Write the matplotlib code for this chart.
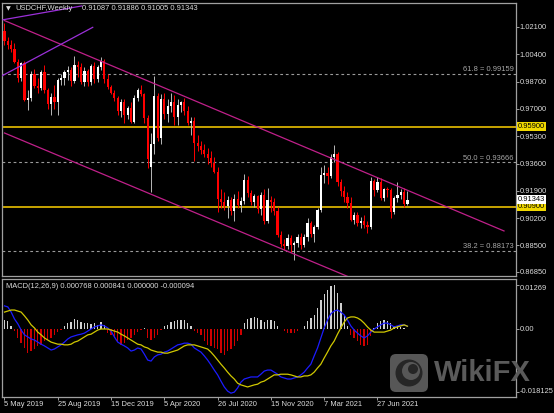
import matplotlib
matplotlib.use("Agg")
import numpy as np
import matplotlib.pyplot as plt
import matplotlib.transforms as mtransforms
from matplotlib.patches import FancyBboxPatch, Circle

# weekly USDCHF candles, week of 5 May 2019 .. week of 30 Aug 2021
opens = [1.0185, 1.0125, 1.0095, 1.0070, 0.9995, 0.9890, 0.9985, 0.9755, 0.9765, 0.9920,
         0.9845, 0.9830, 0.9930, 0.9815, 0.9730, 0.9775, 0.9745, 0.9880, 0.9895, 0.9930,
         0.9945, 0.9875, 0.9975, 0.9960, 0.9870, 0.9935, 0.9865, 0.9965, 0.9885, 0.9960,
         1.0000, 0.9885, 0.9835, 0.9800, 0.9765, 0.9690, 0.9740, 0.9660, 0.9705, 0.9620,
         0.9770, 0.9815, 0.9790, 0.9645, 0.9340, 0.9480, 0.9780, 0.9520, 0.9760, 0.9670,
         0.9720, 0.9745, 0.9650, 0.9725, 0.9740, 0.9690, 0.9615, 0.9625, 0.9490, 0.9470,
         0.9445, 0.9420, 0.9395, 0.9365, 0.9310, 0.9140, 0.9120, 0.9095, 0.9130, 0.9065,
         0.9140, 0.9100, 0.9125, 0.9255, 0.9175, 0.9120, 0.9155, 0.9075, 0.9165, 0.9000,
         0.9135, 0.9120, 0.9065, 0.8915, 0.8860, 0.8845, 0.8895, 0.8850, 0.8865, 0.8905,
         0.8855, 0.8905, 0.8990, 0.8920, 0.8965, 0.9070, 0.9290, 0.9300, 0.9285, 0.9400,
         0.9420, 0.9245, 0.9190, 0.9150, 0.9115, 0.9010, 0.9040, 0.8990, 0.9005, 0.8980,
         0.8965, 0.9250, 0.9195, 0.9245, 0.9145, 0.9200, 0.9195, 0.9055, 0.9145, 0.9165,
         0.9180, 0.91087]
highs = [1.0235, 1.0150, 1.0130, 1.0110, 1.0010, 0.9995, 1.0000, 0.9820, 0.9935, 0.9950,
         0.9890, 0.9940, 0.9975, 0.9830, 0.9800, 0.9850, 0.9890, 0.9920, 0.9945, 0.9970,
         0.9960, 1.0027, 1.0000, 0.9985, 0.9960, 0.9950, 0.9980, 0.9990, 0.9975, 1.0023,
         1.0010, 0.9920, 0.9850, 0.9820, 0.9780, 0.9760, 0.9760, 0.9720, 0.9745, 0.9785,
         0.9830, 0.9850, 0.9800, 0.9660, 0.9550, 0.9902, 0.9800, 0.9790, 0.9800, 0.9760,
         0.9800, 0.9785, 0.9760, 0.9750, 0.9765, 0.9720, 0.9650, 0.9650, 0.9535, 0.9500,
         0.9480, 0.9455, 0.9440, 0.9400, 0.9340, 0.9200, 0.9180, 0.9160, 0.9150, 0.9170,
         0.9190, 0.9150, 0.9295, 0.9280, 0.9195, 0.9170, 0.9165, 0.9185, 0.9200, 0.9210,
         0.9160, 0.9145, 0.9090, 0.8940, 0.8890, 0.8920, 0.8915, 0.8880, 0.8920, 0.8930,
         0.8920, 0.9020, 0.9000, 0.8980, 0.9085, 0.9340, 0.9350, 0.9340, 0.9420, 0.9473,
         0.9430, 0.9265, 0.9220, 0.9180, 0.9150, 0.9060, 0.9060, 0.9030, 0.9040, 0.9000,
         0.9275, 0.9265, 0.9275, 0.9270, 0.9210, 0.9215, 0.9210, 0.9160, 0.9245, 0.9200,
         0.9205, 0.91886]
lows = [1.0100, 1.0075, 1.0055, 0.9985, 0.9870, 0.9875, 0.9750, 0.9695, 0.9750, 0.9830,
        0.9800, 0.9815, 0.9800, 0.9700, 0.9665, 0.9700, 0.9660, 0.9850, 0.9850, 0.9880,
        0.9840, 0.9860, 0.9900, 0.9855, 0.9840, 0.9840, 0.9850, 0.9860, 0.9870, 0.9940,
        0.9860, 0.9825, 0.9790, 0.9750, 0.9660, 0.9650, 0.9615, 0.9640, 0.9610, 0.9610,
        0.9750, 0.9780, 0.9610, 0.9330, 0.9183, 0.9420, 0.9500, 0.9480, 0.9640, 0.9620,
        0.9680, 0.9600, 0.9600, 0.9680, 0.9660, 0.9600, 0.9540, 0.9375, 0.9440, 0.9420,
        0.9400, 0.9360, 0.9340, 0.9300, 0.9060, 0.9080, 0.9070, 0.9020, 0.9040, 0.9000,
        0.9080, 0.9060, 0.9110, 0.9150, 0.9100, 0.9090, 0.9050, 0.9040, 0.8982, 0.8990,
        0.9060, 0.9040, 0.8900, 0.8840, 0.8820, 0.8830, 0.8810, 0.8758, 0.8840, 0.8830,
        0.8840, 0.8880, 0.8900, 0.8870, 0.8950, 0.9060, 0.9240, 0.9230, 0.9270, 0.9370,
        0.9220, 0.9160, 0.9120, 0.9080, 0.9000, 0.8985, 0.8970, 0.8960, 0.8960, 0.8925,
        0.8955, 0.9160, 0.9180, 0.9130, 0.9125, 0.9150, 0.9020, 0.9045, 0.9120, 0.9140,
        0.9090, 0.91005]
closes = [1.0125, 1.0095, 1.0070, 0.9995, 0.9890, 0.9985, 0.9755, 0.9765, 0.9920, 0.9845,
          0.9830, 0.9930, 0.9815, 0.9730, 0.9775, 0.9745, 0.9880, 0.9895, 0.9930, 0.9945,
          0.9875, 0.9975, 0.9960, 0.9870, 0.9935, 0.9865, 0.9965, 0.9885, 0.9960, 1.0000,
          0.9885, 0.9835, 0.9800, 0.9765, 0.9690, 0.9740, 0.9660, 0.9705, 0.9620, 0.9770,
          0.9815, 0.9790, 0.9645, 0.9385, 0.9480, 0.9780, 0.9520, 0.9760, 0.9670, 0.9720,
          0.9745, 0.9650, 0.9725, 0.9740, 0.9690, 0.9615, 0.9625, 0.9490, 0.9470, 0.9445,
          0.9420, 0.9395, 0.9365, 0.9310, 0.9140, 0.9120, 0.9095, 0.9130, 0.9065, 0.9140,
          0.9100, 0.9125, 0.9255, 0.9175, 0.9120, 0.9155, 0.9075, 0.9165, 0.9000, 0.9135,
          0.9120, 0.9065, 0.8915, 0.8860, 0.8845, 0.8895, 0.8850, 0.8865, 0.8905, 0.8855,
          0.8905, 0.8990, 0.8920, 0.8965, 0.9070, 0.9290, 0.9300, 0.9285, 0.9400, 0.9420,
          0.9245, 0.9190, 0.9150, 0.9115, 0.9010, 0.9040, 0.8990, 0.9005, 0.8980, 0.8965,
          0.9250, 0.9195, 0.9245, 0.9145, 0.9200, 0.9195, 0.9055, 0.9145, 0.9165, 0.9180,
          0.9109, 0.91343]

# MACD panel, values in units of 1e-4
macd_e4 = [67, 64, 49, 29, 15, -3, -17, -23, -29, -32,
           -38, -44, -49, -55, -61, -58, -52, -46, -38, -29,
           -23, -20, -17, -15, -12, -6, 0, 6, 9, 12,
           9, 3, -6, -23, -38, -44, -49, -55, -64, -61,
           -55, -58, -73, -90, -93, -81, -75, -73, -67, -64,
           -58, -52, -46, -44, -41, -41, -44, -55, -61, -67,
           -78, -90, -104, -119, -133, -151, -168, -180, -186, -183,
           -171, -154, -145, -142, -139, -139, -139, -131, -122, -119,
           -119, -125, -131, -139, -142, -145, -145, -142, -139, -133,
           -125, -113, -102, -78, -55, -26, 3, 26, 44, 52,
           55, 49, 41, 26, 9, -3, -12, -20, -26, -20,
           -9, 0, 6, 12, 17, 17, 12, 6, 9, 12,
           12, 8]
signal_e4 = [49, 52, 55, 55, 52, 49, 38, 26, 12, 3,
             -9, -17, -26, -32, -38, -41, -44, -44, -46, -46,
             -44, -38, -35, -29, -23, -17, -15, -9, -3, 0,
             0, 0, -3, -6, -9, -15, -20, -26, -32, -38,
             -44, -46, -52, -55, -61, -64, -67, -67, -70, -70,
             -67, -64, -61, -55, -49, -46, -46, -46, -49, -52,
             -55, -58, -67, -78, -90, -102, -113, -125, -136, -145,
             -157, -162, -165, -168, -165, -162, -160, -154, -151, -145,
             -139, -133, -133, -131, -131, -131, -133, -136, -139, -139,
             -136, -136, -133, -125, -113, -102, -84, -67, -49, -35,
             -15, 3, 20, 32, 35, 35, 32, 26, 17, 6,
             -3, -9, -9, -9, -9, -6, -3, 3, 6, 9,
             12, 8]
hist_e4 = [27, 22, 8, -7, -26, -40, -55, -71, -64, -59,
           -50, -45, -36, -31, -26, -16, -9, -2, 8, 16,
           20, 29, 26, 20, 16, 18, 15, 18, 13, 20,
           13, -11, -16, -26, -36, -45, -40, -31, -26, -16,
           -9, -2, 3, -26, -31, -26, -16, -2, 8, 13,
           20, 22, 26, 27, 26, 18, 8, -7, -11, -16,
           -36, -45, -50, -55, -59, -69, -74, -64, -59, -50,
           -36, -16, 18, 29, 32, 35, 32, 27, 20, 26,
           26, 23, 8, -1, -7, -11, -11, -11, -7, 0,
           10, 23, 32, 42, 61, 85, 100, 114, 124, 127,
           104, 75, 37, 8, -16, -26, -36, -45, -50, -45,
           -21, 3, 18, 23, 27, 23, 18, 10, 8, 5,
           3, -1]

date_idx = [0, 16, 32, 48, 64, 80, 96, 112]
date_labels = ["5 May 2019", "25 Aug 2019", "15 Dec 2019", "5 Apr 2020",
               "26 Jul 2020", "15 Nov 2020", "7 Mar 2021", "27 Jun 2021"]
price_ticks = [1.021, 1.004, 0.987, 0.970, 0.953, 0.936, 0.919, 0.902, 0.885, 0.8685]
macd_ticks = [0.01269, 0.0, -0.018125]
macd_tick_labels = ["0.01269", "0.00", "-0.018125"]

fib_levels = ["61.8", "50.0", "38.2"]
fib_prices = [0.99159, 0.93666, 0.88173]
hline_prices = [0.959, 0.909]
last_price = 0.91343

# drawn objects: (bar index, price) end points
channel_upper = ([0, 150], [1.0250, 0.8940])
channel_lower = ([0, 150], [0.9550, 0.8250])
violet_a = ([-0.45, 23.2], [1.0255, 1.0341])
violet_b = ([-0.84, 26.5], [0.9905, 1.0208])

plt.rcParams['font.family'] = ['Liberation Sans', 'DejaVu Sans']
FS = 5.4
TXT = '#dcdcdc'
GRID = '#a0a0a0'

o = np.array(opens); h = np.array(highs); l = np.array(lows); c = np.array(closes)
x = np.arange(len(c))
bull = c >= o

fig = plt.figure(figsize=(5.54, 4.13), dpi=100, facecolor='black')
ax = fig.add_axes([2/554, 1-276/413, 514/554, 273/413], facecolor='black')
axm = fig.add_axes([2/554, 1-397/413, 514/554, 118/413], facecolor='black')

xlim = (-0.75, 153.6)

# candles
ax.vlines(x[bull], l[bull], h[bull], color='#b8b8b8', lw=0.7, zorder=3)
ax.vlines(x[~bull], l[~bull], h[~bull], color='#ff0000', lw=0.7, zorder=3)
body = np.maximum(np.abs(c - o), 0.0004)
ax.bar(x, body, bottom=np.minimum(o, c), width=0.65,
       color=np.where(bull, '#ffffff', '#ff0000'), linewidth=0, zorder=4)

# levels
for p in hline_prices:
    ax.axhline(p, color='#c8a400', lw=1.4, zorder=2)
trans = mtransforms.blended_transform_factory(ax.transAxes, ax.transData)
for lvl, p in zip(fib_levels, fib_prices):
    ax.axhline(p, color='#9a9a9a', lw=0.8, ls=(0, (2.5, 2.5)), zorder=1)
    ax.annotate(f"{lvl} = {p:.5f}", xy=(1, p), xycoords=trans, xytext=(-1.5, 0.6),
                textcoords='offset points', ha='right', va='bottom', fontsize=FS, color='#a8a8a8')

ax.plot(*channel_upper, color='#c0208a', lw=0.9, zorder=5)
ax.plot(*channel_lower, color='#c0208a', lw=0.9, zorder=5)
ax.plot(*violet_a, color='#9b30d9', lw=0.9, zorder=5)
ax.plot(*violet_b, color='#9b30d9', lw=0.9, zorder=5)

ax.set_xlim(*xlim)
ax.set_ylim(0.86596, 1.03594)
ax.yaxis.tick_right()
ax.set_yticks(price_ticks)
ax.set_yticklabels([f"{v:.5f}" for v in price_ticks])
ax.set_xticks([])

# price boxes on the right scale
for p in hline_prices:
    ax.text(1.003, p, f"{p:.5f}", transform=trans, fontsize=FS, color='black', va='center', ha='left',
            bbox=dict(boxstyle='square,pad=0.12', fc='#f0d800', ec='none'), zorder=10, clip_on=False)
ax.text(1.003, last_price, f"{last_price:.5f}", transform=trans, fontsize=FS, color='black',
        va='center', ha='left', bbox=dict(boxstyle='square,pad=0.12', fc='white', ec='none'),
        zorder=10, clip_on=False)

# MACD
hist = np.array(hist_e4) * 1e-4
axm.bar(x, hist, width=0.4, color=np.where(hist >= 0, '#d0d0d0', '#d00000'), linewidth=0)
axm.plot(x, np.array(macd_e4) * 1e-4, color='#1c1cff', lw=0.9)
axm.plot(x, np.array(signal_e4) * 1e-4, color='#d0c800', lw=0.9)
axm.set_xlim(*xlim)
axm.set_ylim(-0.01971, 0.01449)
axm.yaxis.tick_right()
axm.set_yticks(macd_ticks)
axm.set_yticklabels(macd_tick_labels)
ylabs = axm.get_yticklabels()
ylabs[0].set_va('top')
ylabs[-1].set_va('center')
axm.set_xticks(date_idx)
axm.set_xticklabels(date_labels, ha='left')

for a in (ax, axm):
    for s in a.spines.values():
        s.set_color(GRID)
        s.set_linewidth(0.9)
    a.tick_params(colors=GRID, labelcolor=TXT, labelsize=FS, length=2, width=0.7, pad=0.8)

fig.text(6/554, 1-9/413, "\u25bc", fontsize=4.5, color=TXT, va='center', family=['DejaVu Sans'])
fig.text(15/554, 1-9/413, "USDCHF,Weekly", fontsize=FS, color=TXT, va='center')
fig.text(82/554, 1-9/413, "0.91087 0.91886 0.91005 0.91343", fontsize=FS, color=TXT, va='center')
fig.text(6/554, 1-287/413, "MACD(12,26,9) 0.000768 0.000841 0.000000 -0.000094",
         fontsize=FS, color=TXT, va='center')

# WikiFX watermark
ov = fig.add_axes([0, 0, 1, 1], facecolor='none')
ov.set_xlim(0, 554)
ov.set_ylim(413, 0)
ov.axis('off')
ov.add_patch(FancyBboxPatch((390, 354), 38, 38, boxstyle='round,pad=0,rounding_size=6',
                            fc='#575757', ec='none'))
ov.add_patch(Circle((409, 373), 13.5, fc='#262626', ec='none'))
ov.add_patch(Circle((411, 371), 9, fc='#575757', ec='none'))
ov.add_patch(Circle((413, 369), 5, fc='#262626', ec='none'))
ov.text(434, 381, "WikiFX", fontsize=21, fontweight='bold', color='#5a5a5a', va='baseline', ha='left')

fig.savefig("out.png", dpi=100, facecolor='black')
